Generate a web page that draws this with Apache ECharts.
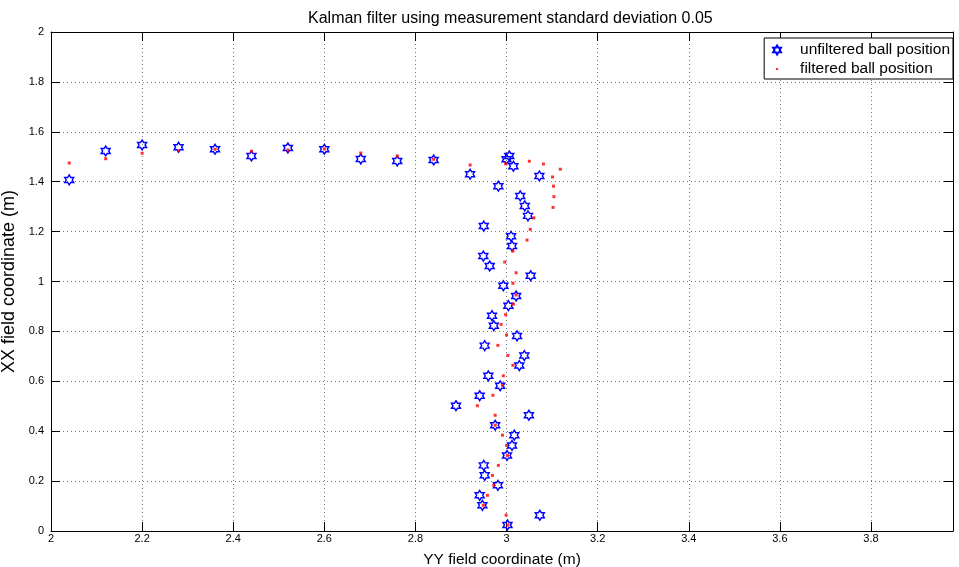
<!DOCTYPE html>
<html>
<head>
<meta charset="utf-8">
<script src="https://cdn.jsdelivr.net/npm/echarts@6/dist/echarts.min.js"></script>
<style>html,body{margin:0;padding:0;background:#fff;}#c{width:959px;height:567px;}</style>
</head>
<body>
<div id="c"></div>
<script>
var titleText = 'Kalman filter using measurement standard deviation 0.05';
var xName = 'YY field coordinate (m)';
var yName = 'XX field coordinate (m)';
var seriesNames = ['unfiltered ball position', 'filtered ball position'];

var unfilteredX = [2.04,2.12,2.20,2.28,2.36,2.44,2.52,2.60,2.68,2.76,2.84,2.92,
  3.000,3.006,3.015,3.072,2.982,3.030,3.040,3.047,2.950,3.010,3.012,2.949,2.963,3.053,2.993,
  3.021,3.004,2.968,2.972,3.023,2.952,3.039,3.028,2.960,2.986,2.941,2.889,
  3.049,2.975,3.017,3.012,3.001,2.950,2.952,2.981,2.941,2.947,3.073,3.002];
var unfilteredY = [1.407,1.523,1.547,1.538,1.530,1.503,1.535,1.530,1.491,1.483,1.487,1.430,
  1.490,1.503,1.462,1.423,1.382,1.343,1.303,1.263,1.222,1.181,1.142,1.102,1.062,1.023,0.983,
  0.942,0.903,0.863,0.823,0.782,0.743,0.703,0.663,0.622,0.582,0.542,0.502,
  0.464,0.424,0.384,0.343,0.303,0.263,0.223,0.183,0.143,0.103,0.063,0.024];

var filteredX = [2.04,2.12,2.20,2.28,2.36,2.44,2.52,2.60,2.68,2.76,2.84,2.92,
  2.998,3.050,3.081,3.118,3.101,3.103,3.104,3.102,3.060,3.052,3.045,3.014,2.996,3.021,3.014,
  3.021,3.015,2.998,2.988,3.000,2.981,3.003,3.014,2.993,2.991,2.970,2.936,
  2.975,2.975,2.991,3.000,3.002,2.982,2.969,2.972,2.958,2.949,2.999,3.003];
var filteredY = [1.475,1.492,1.514,1.524,1.530,1.522,1.527,1.531,1.515,1.503,1.490,1.467,
  1.472,1.482,1.471,1.450,1.419,1.382,1.340,1.297,1.255,1.209,1.166,1.122,1.078,1.035,0.993,
  0.946,0.909,0.867,0.828,0.786,0.744,0.704,0.664,0.622,0.584,0.544,0.502,
  0.464,0.424,0.384,0.343,0.303,0.263,0.223,0.183,0.143,0.103,0.064,0.024];

var xMin = 2, xMax = 3.98, xStep = 0.2;
var yMin = 0, yMax = 2, yStep = 0.2;

function zip(a, b) { return a.map(function (v, i) { return [v, b[i]]; }); }

var starPath = 'path://M0,-10L2.887,-5L8.66,-5L5.774,0L8.66,5L2.887,5L0,10L-2.887,5L-8.66,5L-5.774,0L-8.66,-5L-2.887,-5Z';
var dotPath = 'path://M-5,-5M5,5M-1.2,-1.2L1.2,-1.2L1.2,1.2L-1.2,1.2Z';
var FONT = "'Liberation Sans', Arial, Helvetica, sans-serif";

var chart = echarts.init(document.getElementById('c'), null, {renderer: 'canvas'});
var gridLine = {show: true, lineStyle: {color: '#777', type: [1, 3], width: 1}};
var axisLineBlack = {show: true, onZero: false, lineStyle: {color: '#000', width: 1}};
var tickIn = {show: true, inside: true, length: 9, lineStyle: {color: '#000', width: 1}};

chart.setOption({
  backgroundColor: '#fff',
  animation: false,
  textStyle: {fontFamily: FONT},
  title: {
    text: titleText, left: 303, top: 6,
    textStyle: {fontSize: 16, fontWeight: 'normal', color: '#000', fontFamily: FONT}
  },
  grid: {left: 51, right: 6, top: 32, bottom: 36, containLabel: false, outerBoundsMode: 'none'},
  legend: {
    orient: 'vertical', right: 6, top: 38,
    backgroundColor: '#fff', borderColor: '#000', borderWidth: 1,
    padding: [4, 3, 2, 8], itemGap: 3,
    itemWidth: 36, itemHeight: 9, symbolKeepAspect: true,
    textStyle: {fontSize: 15.5, lineHeight: 16, color: '#000', fontFamily: FONT},
    data: [
      {name: seriesNames[0], icon: starPath},
      {name: seriesNames[1], icon: dotPath}
    ]
  },
  xAxis: [{
    type: 'value', min: xMin, max: xMax, interval: xStep, position: 'bottom',
    name: xName, nameLocation: 'middle', nameGap: 21,
    nameTextStyle: {fontSize: 15.5, color: '#000', fontFamily: FONT},
    axisLine: axisLineBlack, axisTick: tickIn, splitLine: gridLine,
    axisLabel: {fontSize: 11, color: '#000', margin: 2, showMaxLabel: false, fontFamily: FONT}
  }, {
    type: 'value', min: xMin, max: xMax, interval: xStep, position: 'top',
    axisLine: axisLineBlack, axisTick: tickIn, splitLine: {show: false},
    axisLabel: {show: false}
  }],
  yAxis: [{
    type: 'value', min: yMin, max: yMax, interval: yStep, position: 'left',
    name: yName, nameLocation: 'middle', nameGap: 27, nameRotate: 90,
    nameTextStyle: {fontSize: 18, color: '#000', fontFamily: FONT},
    axisLine: axisLineBlack, axisTick: tickIn, splitLine: gridLine,
    axisLabel: {fontSize: 11, color: '#000', margin: 7, fontFamily: FONT}
  }, {
    type: 'value', min: yMin, max: yMax, interval: yStep, position: 'right',
    axisLine: axisLineBlack, axisTick: tickIn, splitLine: {show: false},
    axisLabel: {show: false}
  }],
  series: [{
    name: seriesNames[0], type: 'scatter', xAxisIndex: 0, yAxisIndex: 0,
    symbol: starPath, symbolSize: [9, 10],
    itemStyle: {color: 'rgba(0,0,0,0)', borderColor: '#0000ff', borderWidth: 1.4, opacity: 1},
    data: zip(unfilteredX, unfilteredY), z: 2
  }, {
    name: seriesNames[1], type: 'scatter', xAxisIndex: 0, yAxisIndex: 0,
    symbol: 'rect', symbolSize: 3,
    itemStyle: {color: '#ff0000'},
    data: zip(filteredX, filteredY), z: 3
  }]
});
</script>
</body>
</html>
